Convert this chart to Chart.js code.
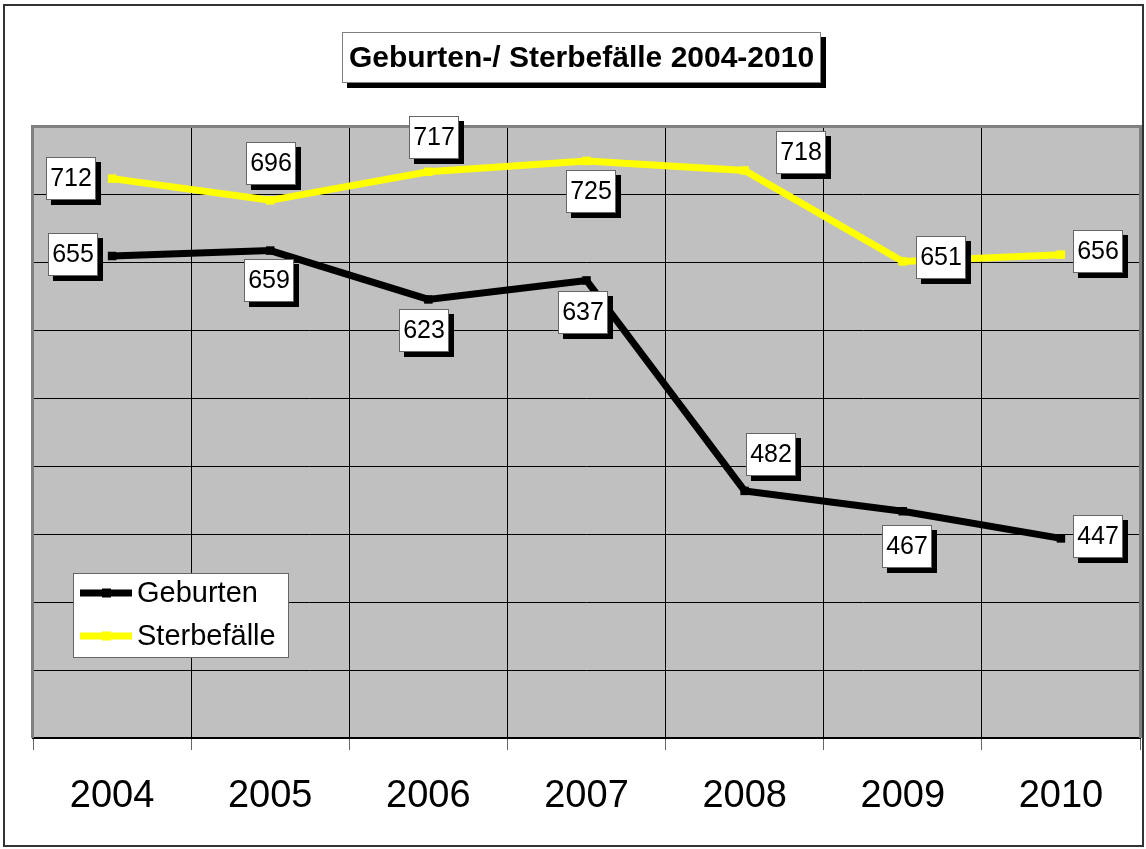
<!DOCTYPE html>
<html>
<head>
<meta charset="utf-8">
<script src="https://cdn.jsdelivr.net/npm/chart.js@4.4.0/dist/chart.umd.min.js"></script>
<style>
body { margin: 0; background: #fff; }
canvas { display: block; }
</style>
</head>
<body>
<canvas id="chart" width="1146" height="849"></canvas>
<script>
var jahre = ["2004", "2005", "2006", "2007", "2008", "2009", "2010"];
var geburten = [655, 659, 623, 637, 482, 467, 447];
var sterbefaelle = [712, 696, 717, 725, 718, 651, 656];
var yMin = 300, yMax = 750, yStep = 50;
var titel = "Geburten-/ Sterbefälle 2004-2010";

// Verschiebung der Wertebeschriftungen gegenüber dem Punkt (dx, dy)
var labelOffsets = [
    [[-39, -1], [-1, 30], [-4, 31], [-4, 32], [26, -36], [4, 35], [37, -2]],
    [[-41, 0], [1, -37], [6, -34], [4, 31], [56, -18], [38, -4], [37, -3]]
];
var FONT = "'Liberation Sans', Arial, sans-serif";

function kasten(ctx, x, y, w, h, rand) {
    ctx.fillStyle = "#000";
    ctx.fillRect(x + 5, y + 5, w, h);       // Schatten
    ctx.fillStyle = "#fff";
    ctx.fillRect(x, y, w, h);
    ctx.strokeStyle = rand;
    ctx.lineWidth = 1;
    ctx.strokeRect(x + 0.5, y + 0.5, w - 1, h - 1);
}

var zeichnen = {
    id: 'zeichnen',
    beforeDraw: function (chart) {
        var ctx = chart.ctx, a = chart.chartArea;
        ctx.save();
        ctx.fillStyle = "#fff";
        ctx.fillRect(0, 0, chart.width, chart.height);
        ctx.fillStyle = "#c0c0c0";
        ctx.fillRect(a.left, a.top, a.right - a.left, a.bottom - a.top);
        ctx.restore();
    },
    beforeDatasetsDraw: function (chart) {
        var ctx = chart.ctx, a = chart.chartArea;
        ctx.save();
        ctx.strokeStyle = "#808080";
        ctx.lineWidth = 3;
        ctx.beginPath();
        ctx.moveTo(a.left - 0.5, a.bottom);
        ctx.lineTo(a.left - 0.5, a.top - 0.5);
        ctx.lineTo(a.right + 0.5, a.top - 0.5);
        ctx.lineTo(a.right + 0.5, a.bottom);
        ctx.stroke();
        ctx.restore();
    },
    afterDatasetsDraw: function (chart) {
        var ctx = chart.ctx;
        ctx.save();
        ctx.font = "25px " + FONT;
        ctx.textAlign = "center";
        ctx.textBaseline = "middle";
        chart.data.datasets.forEach(function (ds, i) {
            var meta = chart.getDatasetMeta(i);
            meta.data.forEach(function (el, j) {
                var txt = ds.data[j].toString();
                var off = labelOffsets[i][j];
                var w = Math.round(ctx.measureText(txt).width) + 8, h = 43;
                var cx = el.x + off[0], cy = el.y + off[1];
                var bx = Math.round(cx - w / 2), by = Math.round(cy - h / 2);
                kasten(ctx, bx, by, w, h, "#666");
                ctx.fillStyle = "#000";
                ctx.fillText(txt, bx + w / 2, by + h / 2 + 1);
            });
        });
        ctx.restore();
    },
    afterDraw: function (chart) {
        var ctx = chart.ctx;
        ctx.save();
        // Rahmen
        ctx.strokeStyle = "#333";
        ctx.lineWidth = 2;
        ctx.strokeRect(4, 5, 1139, 841);

        // Titel
        ctx.font = "bold 30px " + FONT;
        var tw = ctx.measureText(titel).width;
        var bw = Math.round(tw + 14), bh = 51;
        var bx = Math.round(581 - bw / 2), by = 32;
        kasten(ctx, bx, by, bw, bh, "#808080");
        ctx.fillStyle = "#000";
        ctx.textAlign = "center";
        ctx.textBaseline = "middle";
        ctx.fillText(titel, bx + bw / 2, by + bh / 2 + 1);

        // Legende
        var lx = 73, ly = 573, lw = 216, lh = 85;
        ctx.fillStyle = "#fff";
        ctx.fillRect(lx, ly, lw, lh);
        ctx.strokeStyle = "#666";
        ctx.lineWidth = 1;
        ctx.strokeRect(lx + 0.5, ly + 0.5, lw - 1, lh - 1);
        ctx.font = "29px " + FONT;
        ctx.textAlign = "left";
        chart.data.datasets.forEach(function (ds, i) {
            var ry = 593 + i * 43;
            ctx.strokeStyle = ds.borderColor;
            ctx.lineWidth = 7;
            ctx.beginPath();
            ctx.moveTo(80, ry);
            ctx.lineTo(132, ry);
            ctx.stroke();
            ctx.fillStyle = ds.borderColor;
            ctx.fillRect(102, ry - 4.5, 9, 9);
            ctx.fillStyle = "#000";
            ctx.fillText(ds.label, 137, ry + 1);
        });
        ctx.restore();
    }
};

var ctx = document.getElementById("chart").getContext("2d");
new Chart(ctx, {
    type: 'line',
    data: {
        labels: jahre,
        datasets: [{
            label: "Geburten",
            data: geburten,
            borderColor: "#000000",
            backgroundColor: "#000000",
            borderWidth: 7,
            pointStyle: 'rect',
            pointRadius: 6,
            pointBorderWidth: 0,
            tension: 0
        }, {
            label: "Sterbefälle",
            data: sterbefaelle,
            borderColor: "#ffff00",
            backgroundColor: "#ffff00",
            borderWidth: 7,
            pointStyle: 'rect',
            pointRadius: 6,
            pointBorderWidth: 0,
            tension: 0
        }]
    },
    options: {
        responsive: false,
        animation: false,
        layout: { padding: { left: 33, top: 127, right: 6, bottom: 0 } },
        plugins: {
            legend: { display: false },
            title: { display: false },
            tooltip: { enabled: false }
        },
        scales: {
            x: {
                offset: true,
                grid: { offset: true, color: "#000", lineWidth: 1, tickLength: 12, tickColor: "#666" },
                border: { color: "#000", width: 2 },
                ticks: { color: "#000", font: { family: FONT, size: 38 }, padding: 24, maxRotation: 0 },
                afterFit: function (s) { s.height = 111; }
            },
            y: {
                min: yMin,
                max: yMax,
                ticks: { display: false, stepSize: yStep },
                grid: { color: "#000", lineWidth: 1, drawTicks: false },
                border: { display: false },
                afterFit: function (s) { s.width = 0; }
            }
        }
    },
    plugins: [zeichnen]
});
</script>
</body>
</html>
